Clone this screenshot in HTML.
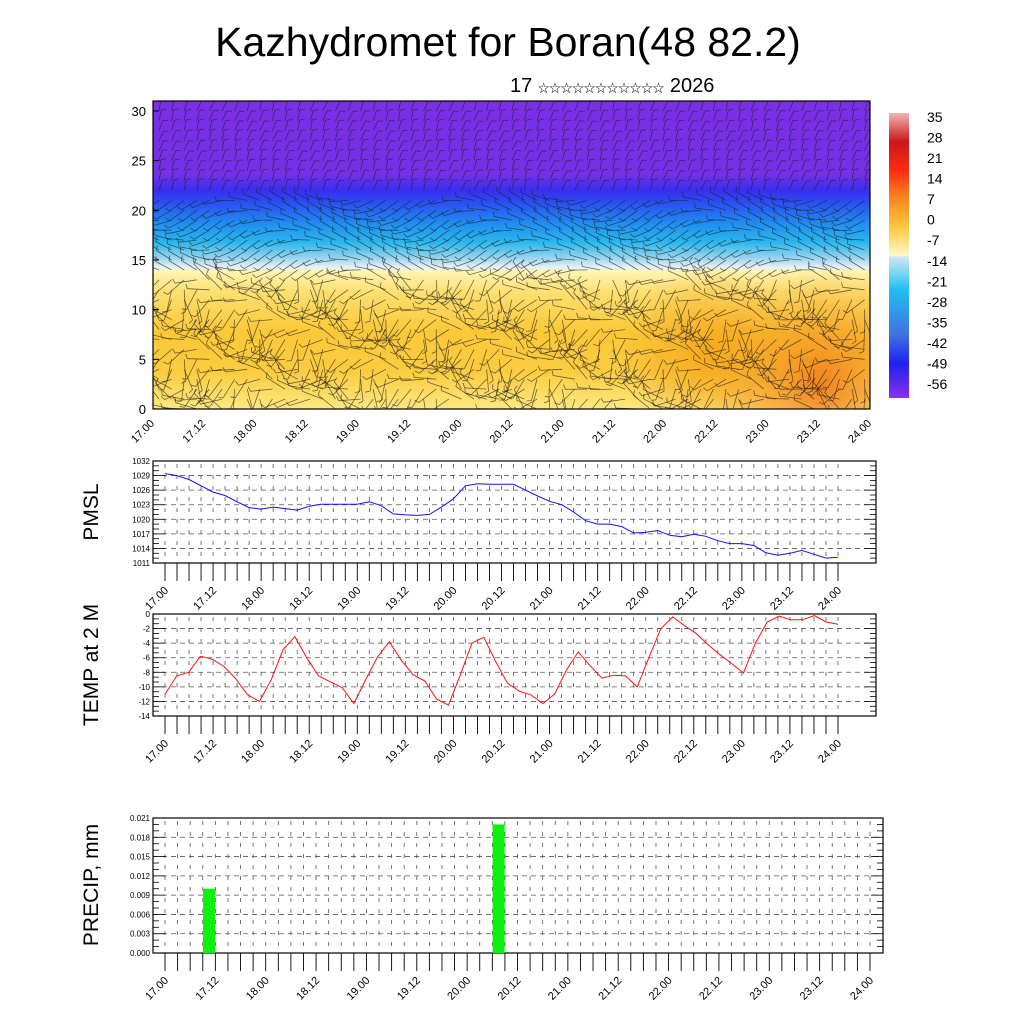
<!DOCTYPE html>
<html><head><meta charset="utf-8">
<style>
html,body{margin:0;padding:0;background:#fff;}
svg{display:block;font-family:"Liberation Sans","Noto Sans CJK SC",sans-serif;}
</style></head>
<body>
<svg id="s" width="1024" height="1024" viewBox="0 0 1024 1024" xmlns="http://www.w3.org/2000/svg">
<defs>
<linearGradient id="fieldGrad" x1="0" y1="101" x2="0" y2="409" gradientUnits="userSpaceOnUse">
<stop offset="0" stop-color="#7b2ee6"/>
<stop offset="0.24" stop-color="#7330e6"/>
<stop offset="0.29" stop-color="#3a2ef0"/>
<stop offset="0.33" stop-color="#2a4ff2"/>
<stop offset="0.40" stop-color="#1f8ff0"/>
<stop offset="0.46" stop-color="#2ab8ee"/>
<stop offset="0.51" stop-color="#9ad4ee"/>
<stop offset="0.54" stop-color="#e6f2f6"/>
<stop offset="0.555" stop-color="#fff4b0"/>
<stop offset="0.62" stop-color="#fde070"/>
<stop offset="0.75" stop-color="#fbc838"/>
<stop offset="0.88" stop-color="#fbcc40"/>
<stop offset="1" stop-color="#fee880"/>
</linearGradient>
<radialGradient id="orangeBlob" cx="820" cy="385" r="120" gradientUnits="userSpaceOnUse">
<stop offset="0" stop-color="#f07818" stop-opacity="0.9"/>
<stop offset="1" stop-color="#f6a020" stop-opacity="0"/>
</radialGradient>
<radialGradient id="orangeBlob2" cx="710" cy="355" r="90" gradientUnits="userSpaceOnUse">
<stop offset="0" stop-color="#f5a010" stop-opacity="0.8"/>
<stop offset="1" stop-color="#f6a020" stop-opacity="0"/>
</radialGradient>
<linearGradient id="cbarGrad" x1="0" y1="113" x2="0" y2="398" gradientUnits="userSpaceOnUse">
<stop offset="0" stop-color="#f4b4b4"/>
<stop offset="0.1" stop-color="#c81818"/>
<stop offset="0.2" stop-color="#ff2a10"/>
<stop offset="0.3" stop-color="#f88820"/>
<stop offset="0.4" stop-color="#fcc840"/>
<stop offset="0.5" stop-color="#fff8c8"/>
<stop offset="0.505" stop-color="#d0e8f4"/>
<stop offset="0.62" stop-color="#20c0f0"/>
<stop offset="0.78" stop-color="#4070e0"/>
<stop offset="0.88" stop-color="#2020f0"/>
<stop offset="1" stop-color="#8a30e8"/>
</linearGradient>
<clipPath id="fieldClip"><rect x="153" y="101" width="717" height="308"/></clipPath>
</defs>
<text x="508" y="56" font-size="41" text-anchor="middle">Kazhydromet for Boran(48 82.2)</text>
<text x="510" y="92" font-size="20">17 <tspan font-size="11.5">☆☆☆☆☆☆☆☆☆☆☆</tspan> 2026</text>
<g id="topSec">
<rect x="153" y="101" width="717" height="308" fill="url(#fieldGrad)"/>
<rect x="153" y="101" width="717" height="308" fill="url(#orangeBlob2)"/>
<rect x="153" y="101" width="717" height="308" fill="url(#orangeBlob)"/>
<g id="barbs" clip-path="url(#fieldClip)" stroke="#222" stroke-opacity="0.65" stroke-width="0.8"></g>
<rect x="153" y="101" width="717" height="308" fill="none" stroke="#000" stroke-width="1.2"/>
<g id="topAxis"></g>
</g>
<rect x="889" y="113" width="20" height="285" fill="url(#cbarGrad)"/>
<g id="cbarLabels" font-size="14"></g>
<g id="pmsl"></g>
<g id="temp"></g>
<g id="precip"></g>
</svg>
<script>
const NS="http://www.w3.org/2000/svg";
function el(tag,attrs,parent,txt){const e=document.createElementNS(NS,tag);for(const k in attrs)e.setAttribute(k,attrs[k]);if(txt!==undefined)e.textContent=txt;parent.appendChild(e);return e;}

// ---- data ----
const timeLabels=["17.00","17.12","18.00","18.12","19.00","19.12","20.00","20.12","21.00","21.12","22.00","22.12","23.00","23.12","24.00"];
const pmslValues=[1029.4,1029.0,1028.2,1026.9,1025.6,1024.9,1023.6,1022.4,1022.1,1022.5,1022.2,1021.9,1022.7,1023.1,1023.1,1023.1,1023.1,1023.6,1022.8,1021.1,1020.9,1020.8,1021.0,1022.5,1024.2,1026.9,1027.3,1027.2,1027.2,1027.2,1026.0,1024.8,1023.7,1023.0,1021.5,1019.7,1019.0,1019.0,1018.5,1017.2,1017.3,1017.7,1016.7,1016.4,1016.9,1016.5,1015.6,1015.0,1015.0,1014.6,1013.1,1012.6,1013.0,1013.6,1012.8,1012.0,1012.2];
const pmslTicks=[1011,1014,1017,1020,1023,1026,1029,1032];
const tempValues=[-11.0,-8.5,-8.0,-5.8,-6.2,-7.2,-8.9,-11.1,-12.0,-9.0,-4.9,-3.1,-6.0,-8.5,-9.3,-10.1,-12.3,-9.0,-5.9,-3.8,-6.3,-8.3,-9.2,-11.7,-12.5,-8.4,-4.0,-3.2,-6.5,-9.5,-10.6,-11.1,-12.3,-11.0,-7.7,-5.2,-7.1,-8.8,-8.4,-8.5,-10.0,-5.9,-2.0,-0.4,-1.6,-2.7,-4.2,-5.6,-6.8,-8.1,-4.0,-1.1,-0.3,-0.8,-0.8,-0.2,-1.1,-1.4];
const tempTicks=[-14,-12,-10,-8,-6,-4,-2,0];
const precipTimes=[3.5,26.5];
const precipValues=[0.010,0.020];
const precipTicks=[0,0.003,0.006,0.009,0.012,0.015,0.018,0.021];
const levelTicks=[0,5,10,15,20,25,30];
const cbarLabels=["35","28","21","14","7","0","-7","-14","-21","-28","-35","-42","-49","-56"];

// ---- top section axes ----
const topAx=document.getElementById('topAxis');
const tx0=153,tx1=870,ty0=409,ty1=101;
const ty=v=>ty0-(v/31)*(ty0-ty1);
levelTicks.forEach(v=>{
  const t=el('text',{x:146,y:ty(v)+5,'font-size':13,'text-anchor':'end'},topAx,String(v));
  
  
  el('line',{x1:tx0,x2:tx0+6,y1:ty(v),y2:ty(v),stroke:'#000'},topAx);
});
timeLabels.forEach((lab,i)=>{
  const x=tx0+i*(tx1-tx0)/14;
  const t=el('text',{x:x+2,y:424,'font-size':11,'text-anchor':'end',transform:`rotate(-45 ${x+2} 424)`},topAx,lab);
  
  
});
// wind barbs texture
const barbs=document.getElementById('barbs');
for(let r=0;r<32;r++){
  for(let c=0;c<57;c++){
    const x=tx0+6+c*12.6, y=ty(r);
    let a;
    if(r>=22) a=-1.25+0.15*Math.sin(c*0.7+r);
    else if(r>=14) a=3.1+0.6*Math.sin(c*0.35+r*0.5);
    else a=2.7+1.1*Math.sin(c*0.5+r*0.9)+0.5*Math.cos(c*1.3);
    const L=r>=22?11:(r>=14?18:22);
    const x2=x+L*Math.cos(a), y2=y+L*Math.sin(a);
    el('line',{x1:x.toFixed(1),y1:y.toFixed(1),x2:x2.toFixed(1),y2:y2.toFixed(1)},barbs);
    const fx=x2+5*Math.cos(a+1.2), fy=y2+5*Math.sin(a+1.2);
    el('line',{x1:x2.toFixed(1),y1:y2.toFixed(1),x2:fx.toFixed(1),y2:fy.toFixed(1)},barbs);
  }
}
// colorbar labels
const cb=document.getElementById('cbarLabels');
cbarLabels.forEach((l,i)=>{
  const y=117+i*(384-117)/13;
  const t=el('text',{x:927,y:y+5},cb,l);
  
  
});

// ---- generic line/bar panel ----
function panel(g,opt){
  const {L,R,T,B,ymin,ymax,ticks,fmt,x0,x1,title,titleY}=opt;
  const sy=v=>B-(v-ymin)/(ymax-ymin)*(B-T);
  const sx=i=>x0+i*(x1-x0)/56;
  ticks.forEach(v=>{
    if(v!==ymin&&v!==ymax) el('line',{x1:L,x2:R,y1:sy(v),y2:sy(v),stroke:'#555','stroke-dasharray':'5,4','stroke-width':0.8},g);
  });
  for(let i=0;i<=56;i++){
    el('line',{x1:sx(i),x2:sx(i),y1:T+3,y2:B-3,stroke:'#555','stroke-dasharray':'4,7','stroke-width':0.8},g);
    el('line',{x1:sx(i),x2:sx(i),y1:B,y2:B+18,stroke:'#000','stroke-width':0.9},g);
  }
  const step=(ticks[1]-ticks[0]);
  const nMinor=Math.round((ymax-ymin)/step*3);
  for(let k=0;k<=nMinor;k++){
    const v=ymin+k*step/3, y=sy(v), major=k%3===0, len=major?12:6;
    el('line',{x1:L,x2:L+len,y1:y,y2:y,stroke:'#000','stroke-width':0.8},g);
    el('line',{x1:R,x2:R-len,y1:y,y2:y,stroke:'#000','stroke-width':0.8},g);
  }
  ticks.forEach(v=>{
    const t=el('text',{x:L-3,y:sy(v)+3,'font-size':8,'text-anchor':'end'},g,fmt(v));
    
    
  });
  timeLabels.forEach((lab,i)=>{
    const x=sx(i*4)+4, y=B+28;
    const t=el('text',{x:x,y:y,'font-size':11,'text-anchor':'end',transform:`rotate(-45 ${x} ${y})`},g,lab);
    
    
  });
  const fr=el('rect',{x:L,y:T,width:R-L,height:B-T,fill:'none',stroke:'#000','stroke-width':1.2},g);
  
  
  const tt=el('text',{x:98,y:titleY,'font-size':21,'text-anchor':'middle',transform:`rotate(-90 98 ${titleY})`},g,title);
  
  
  return {sx,sy};
}
// PMSL
const gp=document.getElementById('pmsl');


let ax=panel(gp,{L:153,R:876,T:461,B:563,ymin:1011,ymax:1032,ticks:pmslTicks,fmt:v=>String(v),x0:165,x1:838,title:'PMSL',titleY:512});
const pPts=pmslValues.map((v,i)=>ax.sx(i*56/(pmslValues.length-1)).toFixed(1)+','+ax.sy(v).toFixed(1)).join(' ');
const pl=el('polyline',{points:pPts,fill:'none',stroke:'#1010ff','stroke-width':1},gp);


// TEMP
const gt=document.getElementById('temp');


ax=panel(gt,{L:153,R:876,T:614,B:716,ymin:-14,ymax:0,ticks:tempTicks,fmt:v=>String(v),x0:165,x1:838,title:'TEMP at 2 M',titleY:665});
const tPts=tempValues.map((v,i)=>ax.sx(i*56/(tempValues.length-1)).toFixed(1)+','+ax.sy(v).toFixed(1)).join(' ');
const tl=el('polyline',{points:tPts,fill:'none',stroke:'#ff1010','stroke-width':1},gt);


// PRECIP
const gr=document.getElementById('precip');


ax=panel(gr,{L:153,R:883,T:818,B:953,ymin:0,ymax:0.021,ticks:precipTicks,fmt:v=>v.toFixed(3),x0:165,x1:870,title:'PRECIP, mm',titleY:885});
precipValues.forEach((v,i)=>{
  const xc=ax.sx(precipTimes[i]);
  const b=el('rect',{x:xc-6,y:ax.sy(v),width:12,height:ax.sy(0)-ax.sy(v),fill:'#10f010'},gr);
  
  
});
</script>
</body></html>
